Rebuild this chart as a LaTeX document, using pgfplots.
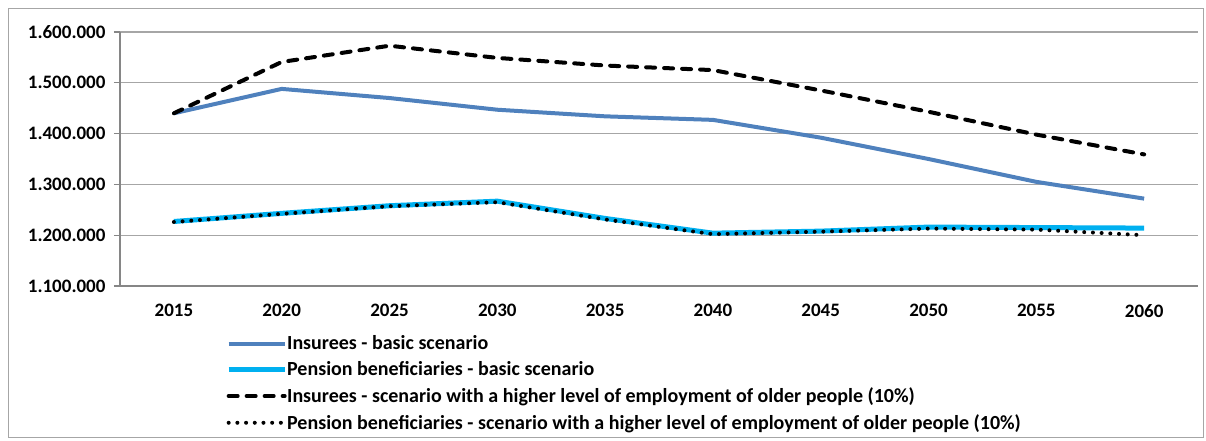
\documentclass[border=0pt]{standalone}
\usepackage{pgfplots}
\pgfplotsset{compat=1.18}
\usepackage{fontspec}
\setmainfont{Carlito}

\definecolor{insblue}{HTML}{4F81BD}
\definecolor{penblue}{HTML}{00B0F0}
\definecolor{gridgray}{HTML}{A6A6A6}
\definecolor{axisgray}{HTML}{868686}

% Insured persons and pension beneficiaries, 2015-2060 (x = 0..9 for the ten years)
\pgfplotstableread{
x  insbasic  penbasic  inshigh  penhigh
0  1440000   1227000   1440000  1226000
1  1488000   1243000   1541000  1242000
2  1470000   1258000   1573000  1257000
3  1447000   1267000   1549000  1265000
4  1434000   1233000   1534000  1231000
5  1427000   1204000   1525000  1202000
6  1392000   1208000   1485000  1207000
7  1350000   1216000   1443000  1213000
8  1305000   1215000   1398000  1211000
9  1272000   1214000   1359000  1200000
}\projection

\begin{document}
\begin{tikzpicture}
\path[use as bounding box] (-120pt,-155pt) rectangle (1086pt,286pt);
\draw[gridgray, line width=0.9pt] (-112pt,-151pt) rectangle (1083pt,278pt);
\begin{axis}[
  at={(0pt,0pt)}, anchor=south west,
  scale only axis, width=1078pt, height=254pt,
  xmin=-0.5, xmax=9.5, ymin=1100000, ymax=1600000,
  xtick={0,1,2,3,4,5,6,7,8,9},
  xticklabels={2015,2020,2025,2030,2035,2040,2045,2050,2055,2060},
  xtick style={draw=none},
  extra x ticks={-0.5,0.5,1.5,2.5,3.5,4.5,5.5,6.5,7.5,8.5,9.5},
  extra x tick labels={},
  extra x tick style={xtick style={axisgray, line width=1.1pt}},
  ytick={1100000,1200000,1300000,1400000,1500000,1600000},
  yticklabels={1.100.000,1.200.000,1.300.000,1.400.000,1.500.000,1.600.000},
  scaled y ticks=false,
  axis x line*=bottom, axis y line*=left,
  axis line style={axisgray, line width=1.3pt},
  tick align=outside, major tick length=6pt,
  ytick style={axisgray, line width=1.1pt},
  ymajorgrids, grid style={gridgray, line width=1.1pt},
  ticklabel style={font=\bfseries\fontsize{19}{21}\selectfont, text=black},
  yticklabel style={xshift=-5pt},
  xticklabel style={yshift=-9pt},
  legend style={at={(axis description cs:0.0983,-0.188)}, anchor=north west,
    draw=none, fill=none, inner sep=0pt,
    font=\bfseries\fontsize{20}{22}\selectfont,
    row sep=6.4pt,
    /tikz/every odd column/.append style={column sep=-2pt}},
  legend cell align=left,
  legend image code/.code={\draw[#1] (0pt,0pt) -- (56pt,0pt);},
]
\addplot[insblue, line width=4pt, line join=round] table[x=x, y=insbasic] {\projection};
\addlegendentry{Insurees - basic scenario}
\addplot[penblue, line width=5pt, line join=round] table[x=x, y=penbasic] {\projection};
\addlegendentry{Pension beneficiaries - basic scenario}
\addplot[black, line width=4pt, line cap=round, dash pattern=on 9pt off 9pt] table[x=x, y=inshigh] {\projection};
\addlegendentry{Insurees - scenario with a higher level of employment of older people (10\%)}
\addplot[black, line width=4pt, line cap=round, dash pattern=on 0pt off 8.7pt] table[x=x, y=penhigh] {\projection};
\addlegendentry{Pension beneficiaries - scenario with a higher level of employment of older people (10\%)}
\end{axis}
\end{tikzpicture}
\end{document}
